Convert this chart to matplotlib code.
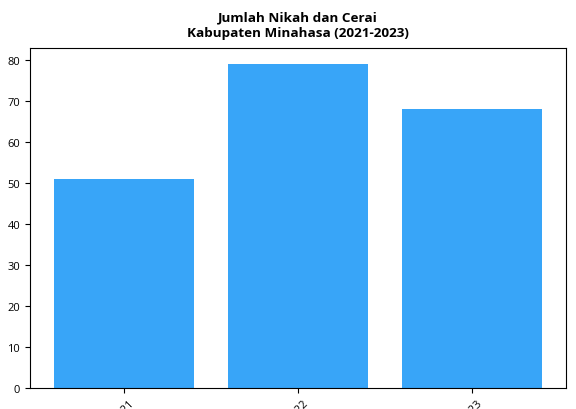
import matplotlib
matplotlib.use("Agg")
import matplotlib.pyplot as plt

years = ["2021", "2022", "2023"]
values = [51, 79, 68]

plt.rcParams['font.family'] = ['Open Sans', 'DejaVu Sans']
fig = plt.figure(figsize=(5.76, 4.10), dpi=100)
ax = fig.add_axes([30/576, 1-389/410, 536/576, 340/410])
ax.bar(years, values, color="#38A5F8", width=0.8)
ax.set_title("Jumlah Nikah dan Cerai\nKabupaten Minahasa (2021-2023)",
             fontsize=9.7, fontweight="bold", pad=9)
ax.tick_params(axis='both', labelsize=8)
plt.setp(ax.get_xticklabels(), rotation=45)
fig.savefig("out.png", dpi=100)
